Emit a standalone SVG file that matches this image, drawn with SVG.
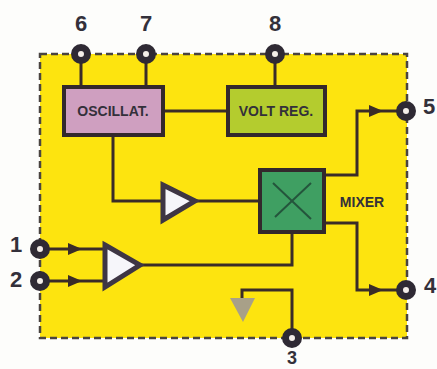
<svg xmlns="http://www.w3.org/2000/svg" width="437" height="369" viewBox="0 0 437 369">
<defs>
<style>
.t{font-family:"Liberation Sans",Arial,sans-serif;font-weight:700;fill:#33303a}
.n{font-size:22px;text-anchor:middle}
.l{font-size:14px;text-anchor:middle}
.w{fill:none;stroke:#3a2c28;stroke-width:3}
.b{stroke:#33282c;stroke-width:4}
.a{fill:#f6f6fa;stroke:#3e3644;stroke-width:5;stroke-linejoin:miter}
.p{fill:#f4eee8;stroke:#2f2a34;stroke-width:7}
.h{fill:#3a2c28}
</style>
</defs>
<rect width="437" height="369" fill="#fdfdfb"/>
<g id="chip"><rect x="40" y="54" width="367" height="284" fill="#fde40f" stroke="#4a4440" stroke-width="2.5" stroke-dasharray="7 4"/></g>
<g id="connectors">
<path class="w" d="M81 54V86M146 54V86M275 54V86M164 111H227M113 136V201H162M196 201H258M141 265H292V234M325 175H357V111H406M325 223H357V290H406M242 298V290H292V338M40 249H104M40 281H104"/>
<path class="h" d="M68 243L82 249L68 255ZM68 275L82 281L68 287ZM369 105L383 111L369 117ZM369 284L383 290L369 296Z"/>
</g>
<g id="osc"><rect class="b" x="64" y="87" width="99" height="48" fill="#cf9fc0"/><text class="t l" x="113" y="116">OSCILLAT.</text></g>
<g id="reg"><rect class="b" x="228" y="87" width="97" height="48" fill="#b4cc2e"/><text class="t l" x="276" y="116">VOLT REG.</text></g>
<g id="mixer"><rect class="b" x="260" y="170" width="64" height="62" fill="#3f9f62"/><path d="M273 183L311 219M311 183L275 217" fill="none" stroke="#24553c" stroke-width="2"/><text class="t l" x="362" y="207">MIXER</text></g>
<g id="amp1"><path class="a" d="M163 185L195 201L163 220Z"/></g>
<g id="amp2"><path class="a" d="M105 245L140 265L105 287Z"/></g>
<g id="ground"><path d="M230 298H255L243 322Z" fill="#a8a088"/></g>
<g id="pin6"><circle class="p" cx="81" cy="54" r="6.5"/><text class="t n" x="81" y="31">6</text></g>
<g id="pin7"><circle class="p" cx="146" cy="54" r="6.5"/><text class="t n" x="146" y="31">7</text></g>
<g id="pin8"><circle class="p" cx="275" cy="54" r="6.5"/><text class="t n" x="275" y="31">8</text></g>
<g id="pin5"><circle class="p" cx="406" cy="111" r="6.5"/><text class="t n" x="429" y="114">5</text></g>
<g id="pin4"><circle class="p" cx="406" cy="290" r="6.5"/><text class="t n" x="430" y="293">4</text></g>
<g id="pin3"><circle class="p" cx="292" cy="338" r="6.5"/><text class="t" style="font-size:18px;text-anchor:middle" x="292" y="364">3</text></g>
<g id="pin1"><circle class="p" cx="40" cy="249" r="6.5"/><text class="t n" x="16" y="252">1</text></g>
<g id="pin2"><circle class="p" cx="40" cy="281" r="6.5"/><text class="t n" x="16" y="287">2</text></g>
</svg>
